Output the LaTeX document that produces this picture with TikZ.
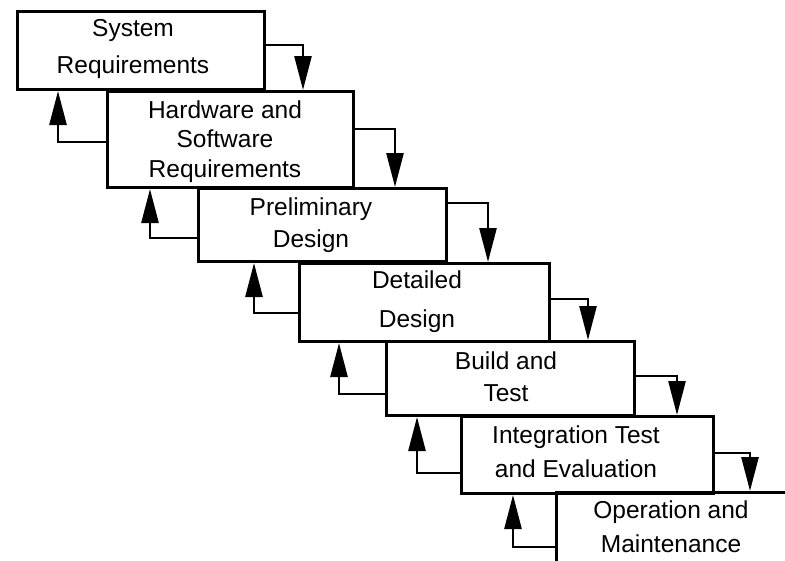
\documentclass[tikz,border=0pt]{standalone}
\usepackage{fontspec}
\setmainfont{Liberation Sans}
\usetikzlibrary{arrows.meta}
\begin{document}
\begin{tikzpicture}[x=1pt,y=-1pt,
  stage/.style={draw, line width=3pt, rectangle, inner sep=0pt, anchor=north west},
  lbl/.style={align=center, inner sep=0pt, anchor=base, font=\fontsize{24.5}{#1}\selectfont},
  fwd/.style={line width=2.6pt, -{Triangle[length=34pt,width=17pt]}},
  back/.style={line width=2.6pt, -{Triangle[length=34pt,width=17pt]}}]
\useasboundingbox (0,0) rectangle (785,560);
\clip (0,0) rectangle (785,560);
% stages
\node[stage, minimum width=247pt, minimum height=78pt] (b1) at (16,10) {};
\node[stage, minimum width=246pt, minimum height=96pt] (b2) at (106,90) {};
\node[stage, minimum width=248pt, minimum height=73pt] (b3) at (197,187) {};
\node[stage, minimum width=250pt, minimum height=78pt] (b4) at (298,262) {};
\node[stage, minimum width=248pt, minimum height=74pt] (b5) at (385,340) {};
\node[stage, minimum width=252pt, minimum height=77pt] (b6) at (460,415) {};
\node[stage, minimum width=260pt, minimum height=110pt] (b7) at (555,491) {};
% labels (anchored at the baseline of the last line)
\node[lbl=37pt] (t1) at (133,73) {System\\Requirements};
\node[lbl=29.5pt] (t2) at (225,177) {Hardware and\\Software\\Requirements};
\node[lbl=32pt] (t3) at (311,247) {Preliminary\\Design};
\node[lbl=39pt] (t4) at (417,327) {Detailed\\Design};
\node[lbl=32pt] (t5) at (506,401) {Build and\\Test};
\node[lbl=34pt] (t6) at (576,477) {Integration Test\\and Evaluation};
\node[lbl=34pt] (t7) at (671,552) {Operation and\\Maintenance};
% forward flow
\draw[fwd] ([yshift=-35pt]b1.north east) -| ([xshift=197pt]b2.north west);
\draw[fwd] ([yshift=-39pt]b2.north east) -| ([xshift=198pt]b3.north west);
\draw[fwd] ([yshift=-16pt]b3.north east) -| ([xshift=190pt]b4.north west);
\draw[fwd] ([yshift=-37pt]b4.north east) -| ([xshift=203pt]b5.north west);
\draw[fwd] ([yshift=-36pt]b5.north east) -| ([xshift=217pt]b6.north west);
\draw[fwd] ([yshift=-38pt]b6.north east) -| ([xshift=195pt]b7.north west);
% feedback
\draw[back] ([yshift=-52pt]b2.north west) -| ([xshift=42pt]b1.south west);
\draw[back] ([yshift=-51pt]b3.north west) -| ([xshift=44pt]b2.south west);
\draw[back] ([yshift=-51pt]b4.north west) -| ([xshift=57pt]b3.south west);
\draw[back] ([yshift=-54pt]b5.north west) -| ([xshift=41pt]b4.south west);
\draw[back] ([yshift=-58pt]b6.north west) -| ([xshift=32pt]b5.south west);
\draw[back] ([yshift=-56pt]b7.north west) -| ([xshift=53pt]b6.south west);
\end{tikzpicture}
\end{document}
